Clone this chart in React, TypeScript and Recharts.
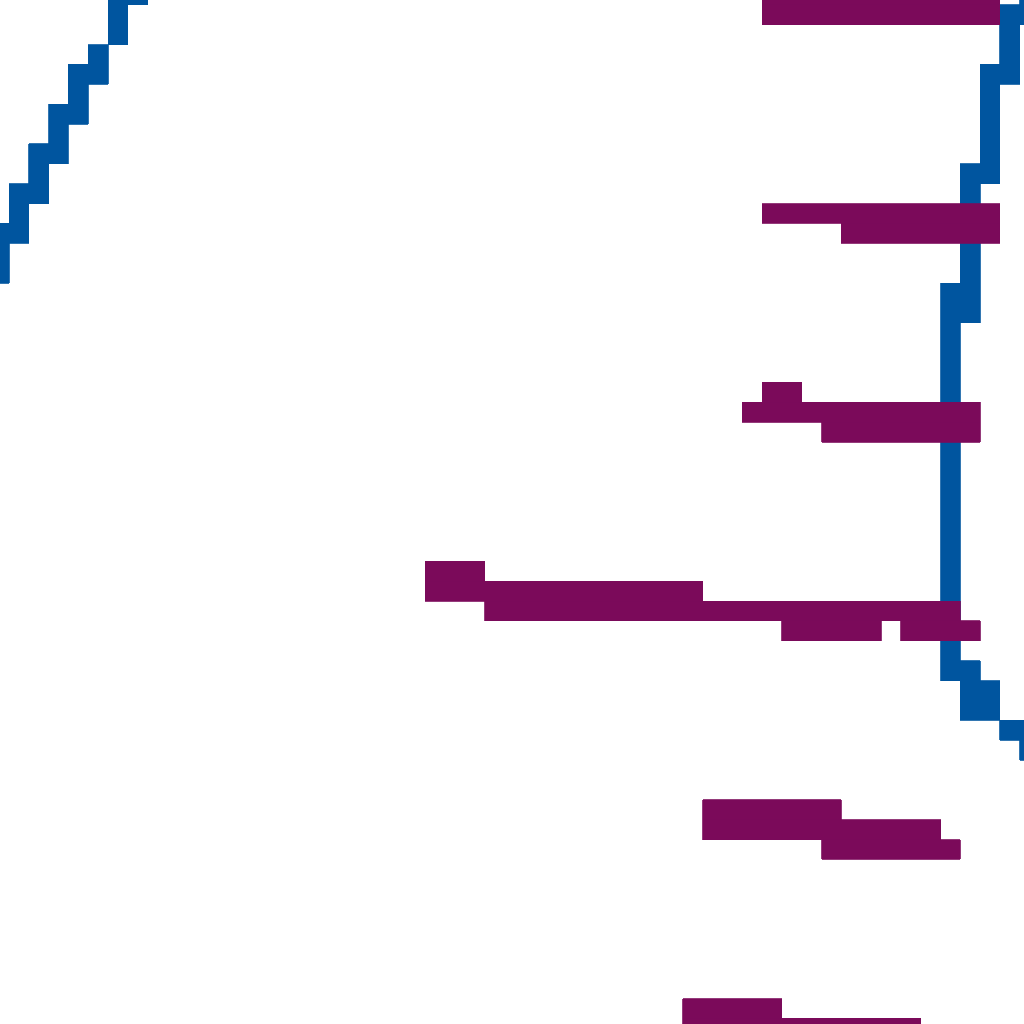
import { BarChart, Bar, XAxis, YAxis } from "recharts";

const BLUE = "#00559F";
const PURPLE = "#7B0A5A";

// the picture is a magnified pixel grid: one category per grid row
const rows = [
  -1, 0, 1, 2, 3, 4, 5, 6, 7, 8, 9, 10, 11, 12, 13, 14, 15, 16, 17, 18, 19, 20,
  21, 22, 23, 24, 25, 26, 27, 28, 29, 30, 31, 32, 33, 34, 35, 36, 37, 38, 39,
  40, 41, 42, 43, 44, 45, 46, 47, 48, 49, 50, 51,
];

// runs: [row, first column, last column + 1]
type Run = [number, number, number];

const blueLeft: Run[] = [
  [-1, 5, 7], [0, 5, 6], [1, 5, 6], [2, 4, 5], [3, 3, 5], [4, 3, 4],
  [5, 2, 4], [6, 2, 3], [7, 1, 3], [8, 1, 2], [9, 0, 2], [10, 0, 1],
  [11, -1, 1], [12, -1, 0], [13, -1, 0],
];

const blueRight: Run[] = [
  [-1, 51, 52], [0, 50, 52], [1, 50, 51], [2, 50, 51], [3, 49, 51],
  [4, 49, 50], [5, 49, 50], [6, 49, 50], [7, 49, 50], [8, 48, 50],
  [9, 48, 49], [10, 48, 49], [11, 48, 49], [12, 48, 49], [13, 48, 49],
  [14, 47, 49], [15, 47, 49], [16, 47, 48], [17, 47, 48], [18, 47, 48],
  [19, 47, 48], [20, 47, 48], [21, 47, 48], [22, 47, 48], [23, 47, 48],
  [24, 47, 48], [25, 47, 48], [26, 47, 48], [27, 47, 48], [28, 47, 48],
  [29, 47, 48], [30, 47, 48], [31, 47, 48], [32, 47, 48], [33, 47, 49],
  [34, 48, 50], [35, 48, 50], [36, 50, 52], [37, 51, 52],
];

const purpleMain: Run[] = [
  [-1, 38, 50], [0, 38, 50], [10, 38, 50], [11, 42, 50],
  [19, 38, 40], [20, 37, 49], [21, 41, 49],
  [28, 21, 24], [29, 21, 35], [30, 24, 48], [31, 39, 44],
  [40, 35, 42], [41, 35, 47], [42, 41, 48],
  [50, 34, 39], [51, 34, 46],
];

const purpleExtra: Run[] = [[31, 45, 49]];

// grid geometry in page pixels
const CELL_W = 19.82;
const CELL_H = 19.873;
const COL0_X = 9;
const ROW0_Y = 4.5;
const SIZE = 1024;

const pick = (runs: Run[], row: number) => {
  const r = runs.find((d) => d[0] === row);
  return r ? [r[1], r[2]] : null;
};

const data = rows.map((row) => ({
  row,
  blueLeft: pick(blueLeft, row),
  blueRight: pick(blueRight, row),
  purpleMain: pick(purpleMain, row),
  purpleExtra: pick(purpleExtra, row),
}));

const chartHeight = rows.length * CELL_H;
const barSize = CELL_H - 0.002;

export default function App() {
  return (
    <div
      style={{
        position: "fixed",
        left: 0,
        top: 0,
        width: SIZE,
        height: SIZE,
        overflow: "hidden",
        background: "#fff",
      }}
    >
      <div style={{ position: "absolute", left: 0, top: ROW0_Y - CELL_H }}>
        <BarChart
          width={SIZE}
          height={chartHeight}
          data={data}
          layout="vertical"
          margin={{ top: 0, right: 0, bottom: 0, left: 0 }}
          barSize={barSize}
          barGap={-barSize}
        >
          <XAxis
            type="number"
            hide
            allowDataOverflow
            domain={[-COL0_X / CELL_W, (SIZE - COL0_X) / CELL_W]}
          />
          <YAxis type="category" dataKey="row" hide />
          <Bar dataKey="blueLeft" fill={BLUE} stroke={BLUE} strokeWidth={0.8} shapeRendering="crispEdges" isAnimationActive={false} />
          <Bar dataKey="blueRight" fill={BLUE} stroke={BLUE} strokeWidth={0.8} shapeRendering="crispEdges" isAnimationActive={false} />
          <Bar dataKey="purpleMain" fill={PURPLE} stroke={PURPLE} strokeWidth={0.8} shapeRendering="crispEdges" isAnimationActive={false} />
          <Bar dataKey="purpleExtra" fill={PURPLE} stroke={PURPLE} strokeWidth={0.8} shapeRendering="crispEdges" isAnimationActive={false} />
        </BarChart>
      </div>
    </div>
  );
}
